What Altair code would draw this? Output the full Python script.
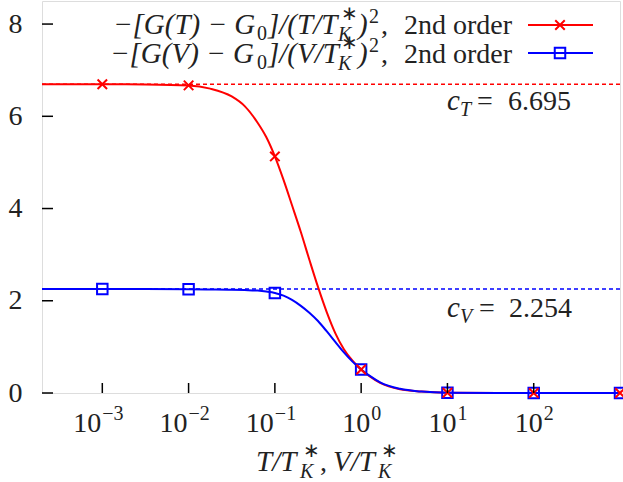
import altair as alt
import pandas as pd

# ---------------- data ----------------
curve_x = [2e-4, 1e-3, 3.16e-3, 1e-2, 1.78e-2, 3.16e-2, 4.47e-2, 6.31e-2, 7.94e-2, 0.1,
           0.126, 0.158, 0.2, 0.251, 0.316, 0.398, 0.501, 0.631, 0.794, 1.0,
           1.26, 1.66, 2.82, 5.01, 10.0, 100.0, 1000.0]
red_curve = [6.695, 6.695, 6.69, 6.67, 6.60, 6.43, 6.22, 5.86, 5.55, 5.13,
             4.62, 4.07, 3.49, 2.89, 2.30, 1.76, 1.30, 0.95, 0.70, 0.51,
             0.36, 0.22, 0.08, 0.03, 0.005, 0.0, 0.0]
blue_curve = [2.254, 2.254, 2.253, 2.248, 2.245, 2.240, 2.232, 2.22, 2.20, 2.17,
              2.11, 2.02, 1.89, 1.74, 1.56, 1.34, 1.11, 0.88, 0.68, 0.51,
              0.37, 0.23, 0.09, 0.03, 0.005, 0.0, 0.0]

marker_x = [1e-3, 1e-2, 1e-1, 1.0, 10.0, 100.0, 1000.0]
red_marks = [6.695, 6.67, 5.13, 0.51, 0.005, 0.0, 0.0]
blue_marks = [2.254, 2.248, 2.17, 0.51, 0.005, 0.0, 0.0]

c_T = 6.695
c_V = 2.254

x_tick_values = [1e-3, 1e-2, 1e-1, 1.0, 10.0, 100.0]
x_tick_exponents = ["−3", "−2", "−1", "0", "1", "2"]
y_tick_values = [0, 2, 4, 6, 8]

# ---------------- style ----------------
FONT = "'Liberation Serif', 'Times New Roman', serif"
FS = 28      # upright text
MFS = 29     # math italic
SFS = 20     # sub/superscripts
TXT = "#222222"
RED = "#ff0000"
BLUE = "#0000ff"
W, H = 578, 392
X0, Y0 = 42, 1  # plot origin in page pixels
XPATH = "M-1,-1L1,1M-1,1L1,-1"
LABEL_BASE = H + 39

xscale = alt.Scale(type="log", domain=[2e-4, 1e3], nice=False)
yscale = alt.Scale(domain=[0, 8.5], nice=False)

yaxis = alt.Axis(values=y_tick_values, title=None, grid=False, domain=False, ticks=False,
                 labelFont=FONT, labelFontSize=FS, labelColor=TXT, labelPadding=20)

curves = pd.DataFrame({"x": curve_x, "red": red_curve, "blue": blue_curve})
marks = pd.DataFrame({"x": marker_x, "red": red_marks, "blue": blue_marks})
ticks_df = pd.DataFrame({"x": x_tick_values, "e": x_tick_exponents})
dummy = pd.DataFrame({"d": [0]})

X = alt.X("x:Q", scale=xscale, axis=None)

ref_T = alt.Chart(dummy).mark_rule(color=RED, strokeDash=[4, 3], strokeWidth=1.5).encode(
    y=alt.datum(c_T))
ref_V = alt.Chart(dummy).mark_rule(color=BLUE, strokeDash=[4, 3], strokeWidth=1.5).encode(
    y=alt.datum(c_V))

line_red = alt.Chart(curves).mark_line(color=RED, strokeWidth=2, interpolate="monotone").encode(
    x=X, y=alt.Y("red:Q", scale=yscale, axis=yaxis))
line_blue = alt.Chart(curves).mark_line(color=BLUE, strokeWidth=2, interpolate="monotone").encode(
    x=X, y=alt.Y("blue:Q", scale=yscale, axis=yaxis))

pts_blue = alt.Chart(marks).mark_point(shape="square", size=110, filled=False, color=BLUE,
                                        strokeWidth=2, opacity=1).encode(
    x=X, y=alt.Y("blue:Q", scale=yscale, axis=yaxis))
pts_red = alt.Chart(marks).mark_point(shape=XPATH, size=90, filled=False, color=RED,
                                       strokeWidth=2, opacity=1).encode(
    x=X, y=alt.Y("red:Q", scale=yscale, axis=yaxis))

yt = pd.DataFrame({"v": y_tick_values})
ticks_x = alt.Chart(ticks_df).mark_rule(color="black", strokeWidth=1.5).encode(
    x=X, y=alt.value(H), y2=alt.value(H - 10))
ticks_y = alt.Chart(yt).mark_rule(color="black", strokeWidth=1.5).encode(
    y=alt.Y("v:Q", scale=yscale, axis=yaxis), x=alt.value(0), x2=alt.value(11))

# x tick labels: "10" with a raised exponent
neg = alt.datum.x < 0.5
pos = alt.datum.x >= 0.5
xlabels = []
for cond, shift in ((neg, -1), (pos, 9)):
    xlabels.append(
        alt.Chart(ticks_df).transform_filter(cond).mark_text(
            text="10", align="right", baseline="alphabetic", font=FONT, fontSize=FS,
            color=TXT, dx=shift
        ).encode(x=X, y=alt.value(LABEL_BASE))
    )
    xlabels.append(
        alt.Chart(ticks_df).transform_filter(cond).mark_text(
            align="left", baseline="alphabetic", font=FONT, fontSize=SFS,
            color=TXT, dx=shift + 1
        ).encode(x=X, y=alt.value(LABEL_BASE - 12), text="e:N")
    )


def text(s, x, y, size=FS, italic=False, align="left"):
    return alt.Chart(dummy).mark_text(
        text=s, align=align, baseline="alphabetic", font=FONT, fontSize=size,
        fontStyle="italic" if italic else "normal", color=TXT
    ).encode(x=alt.value(x - X0), y=alt.value(y - Y0))


def sample(color, y, shape, size):
    r = alt.Chart(dummy).mark_rule(color=color, strokeWidth=2).encode(
        x=alt.value(528 - X0), x2=alt.value(593 - X0), y=alt.value(y - Y0))
    p = alt.Chart(dummy).mark_point(shape=shape, size=size, filled=False, color=color,
                                    strokeWidth=2, opacity=1).encode(
        x=alt.value(560 - X0), y=alt.value(y - Y0))
    return [r, p]


def legend_row(var, b, x_start):
    return [
        text(f"−[G({var}) − G", x_start, b, size=MFS, italic=True),
        text("0", 257, b + 6, size=SFS),
        text(f"]/({var}/T", 268, b, size=MFS, italic=True),
        text("∗", 341, b - 14, size=SFS),
        text("K", 338, b + 7, size=SFS, italic=True),
        text(")", 358, b, size=MFS, italic=True),
        text("2", 369, b - 11, size=SFS),
        text(",", 381, b),
        text("2nd order", 512, b, align="right"),
    ]


texts = []
texts += legend_row("T", 34, 113)
texts += legend_row("V", 63, 110)
# annotations
texts += [
    text("c", 447, 110, size=MFS, italic=True),
    text("T", 460, 116, size=SFS, italic=True),
    text("=", 477, 110),
    text("6.695", 571, 110, align="right"),
    text("c", 447, 317, size=MFS, italic=True),
    text("V", 460, 323, size=SFS, italic=True),
    text("=", 479, 317),
    text("2.254", 572, 317, align="right"),
]
# x axis title
bt = 471
texts += [
    text("T/T", 256, bt, size=MFS, italic=True),
    text("∗", 303, bt - 14, size=SFS),
    text("K", 300, bt + 7, size=SFS, italic=True),
    text(",", 320, bt),
    text("V/T", 333, bt, size=MFS, italic=True),
    text("∗", 381, bt - 14, size=SFS),
    text("K", 378, bt + 7, size=SFS, italic=True),
]

legend = sample(RED, 25, XPATH, 90) + sample(BLUE, 53, "square", 110)

chart = alt.layer(
    ref_T, ref_V, line_red, line_blue, pts_blue, pts_red, ticks_x, ticks_y,
    *xlabels, *legend, *texts
).properties(
    width=W, height=H,
    autosize=alt.AutoSizeParams(type="none"),
    padding={"left": X0, "top": Y0, "right": 623 - X0 - W, "bottom": 482 - Y0 - H},
).configure_view(stroke="black", strokeWidth=2).configure(background="white")

chart.save("out.html", embed_options={"renderer": "svg", "actions": False})
